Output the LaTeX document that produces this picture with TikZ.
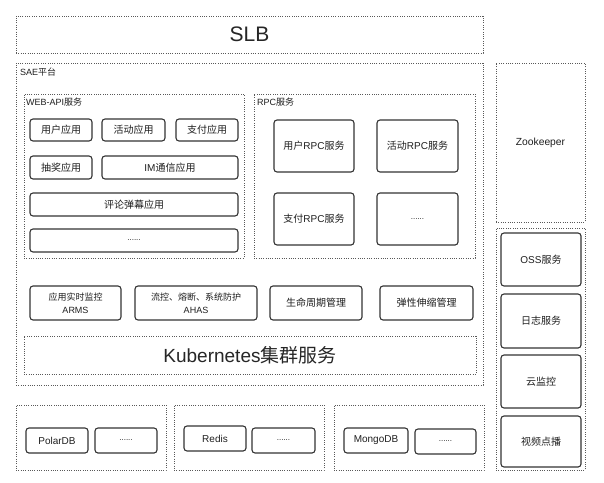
\documentclass[tikz,border=0pt]{standalone}
\usepackage{fontspec}
\setmainfont{Liberation Sans}
\newfontfamily\cjkfont{Noto Sans CJK SC}
\newcommand\zh[1]{{\cjkfont #1}}
\begin{document}
\begin{tikzpicture}[x=1pt,y=-1pt,
  grp/.style={draw=black!65, line width=0.9pt, dash pattern=on 0.9pt off 1.4pt, inner sep=0pt},
  box/.style={draw=black!80, line width=1.1pt, rounded corners=3pt, inner sep=0pt, align=center, text=black!88, font=\fontsize{10}{11.5}\selectfont},
  lbl/.style={anchor=north west, inner sep=0pt, text=black!88, font=\fontsize{9}{10}\selectfont},
  dots/.style={box, font=\fontsize{8}{9}\selectfont}
]
\useasboundingbox[fill=white] (0,0) rectangle (604,482);
% SLB
\node[grp, minimum width=467pt, minimum height=37pt, font=\fontsize{21}{24}\selectfont, text=black!85] (slb) at (249.5,34.5) {SLB};
% SAE
\node[grp, minimum width=467pt, minimum height=322pt] (sae) at (249.5,224) {};
\node[lbl] (saelbl) at (20,68) {SAE\zh{平台}};
% WEB-API
\node[grp, minimum width=220pt, minimum height=164pt] (web) at (134,176) {};
\node[lbl] (weblbl) at (26,98) {WEB-API\zh{服务}};
\node[box, minimum width=62pt, minimum height=22pt] (u1) at (61,130) {\zh{用户应用}};
\node[box, minimum width=63pt, minimum height=22pt] (u2) at (133.5,130) {\zh{活动应用}};
\node[box, minimum width=62pt, minimum height=22pt] (u3) at (207,130) {\zh{支付应用}};
\node[box, minimum width=62pt, minimum height=23pt] (u4) at (61,167.5) {\zh{抽奖应用}};
\node[box, minimum width=136pt, minimum height=23pt] (u5) at (170,167.5) {IM\zh{通信应用}};
\node[box, minimum width=208pt, minimum height=23pt] (u6) at (134,204.5) {\zh{评论弹幕应用}};
\node[dots, minimum width=208pt, minimum height=23pt] (u7) at (134,240.5) {......};
% RPC
\node[grp, minimum width=221pt, minimum height=164pt] (rpc) at (364.5,176) {};
\node[lbl] (rpclbl) at (257,98) {RPC\zh{服务}};
\node[box, minimum width=80pt, minimum height=52pt] (r1) at (314,146) {\zh{用户}RPC\zh{服务}};
\node[box, minimum width=81pt, minimum height=52pt] (r2) at (417.5,146) {\zh{活动}RPC\zh{服务}};
\node[box, minimum width=80pt, minimum height=52pt] (r3) at (314,219) {\zh{支付}RPC\zh{服务}};
\node[dots, minimum width=81pt, minimum height=52pt] (r4) at (417.5,219) {......};
% bottom services
\node[box, minimum width=91pt, minimum height=34pt, font=\fontsize{9}{13}\selectfont] (b1) at (75.5,303) {\zh{应用实时监控}\\ARMS};
\node[box, minimum width=122pt, minimum height=34pt, font=\fontsize{9}{13}\selectfont] (b2) at (196,303) {\zh{流控、熔断、系统防护}\\AHAS};
\node[box, minimum width=92pt, minimum height=34pt] (b3) at (316,303) {\zh{生命周期管理}};
\node[box, minimum width=93pt, minimum height=34pt] (b4) at (426.5,303) {\zh{弹性伸缩管理}};
% Kubernetes
\node[grp, minimum width=452pt, minimum height=38pt, font=\fontsize{19}{22}\selectfont, text=black!85] (k8s) at (250,355) {Kubernetes\zh{集群服务}};
% right column
\node[grp, minimum width=89pt, minimum height=159pt, font=\fontsize{10.3}{11.5}\selectfont, text=black!88] (zk) at (540.5,142.5) {Zookeeper};
\node[grp, minimum width=89pt, minimum height=242pt] (rc) at (540.5,349) {};
\node[box, minimum width=80pt, minimum height=53pt] (o1) at (541,259.5) {OSS\zh{服务}};
\node[box, minimum width=80pt, minimum height=54pt] (o2) at (541,321) {\zh{日志服务}};
\node[box, minimum width=80pt, minimum height=53pt] (o3) at (541,381.5) {\zh{云监控}};
\node[box, minimum width=80pt, minimum height=51pt] (o4) at (541,441.5) {\zh{视频点播}};
% DB groups
\node[grp, minimum width=150pt, minimum height=65pt] (d1) at (91,437.5) {};
\node[grp, minimum width=150pt, minimum height=65pt] (d2) at (249,437.5) {};
\node[grp, minimum width=150pt, minimum height=65pt] (d3) at (409,437.5) {};
\node[box, minimum width=62pt, minimum height=25pt] (p1) at (57,440.5) {PolarDB};
\node[dots, minimum width=62pt, minimum height=25pt] (p2) at (126,440.5) {......};
\node[box, minimum width=62pt, minimum height=25pt] (q1) at (215,438.5) {Redis};
\node[dots, minimum width=63pt, minimum height=25pt] (q2) at (283.5,440.5) {......};
\node[box, minimum width=64pt, minimum height=25pt] (m1) at (376,440.5) {MongoDB};
\node[dots, minimum width=61pt, minimum height=25pt] (m2) at (445.5,441.5) {......};
\end{tikzpicture}
\end{document}
